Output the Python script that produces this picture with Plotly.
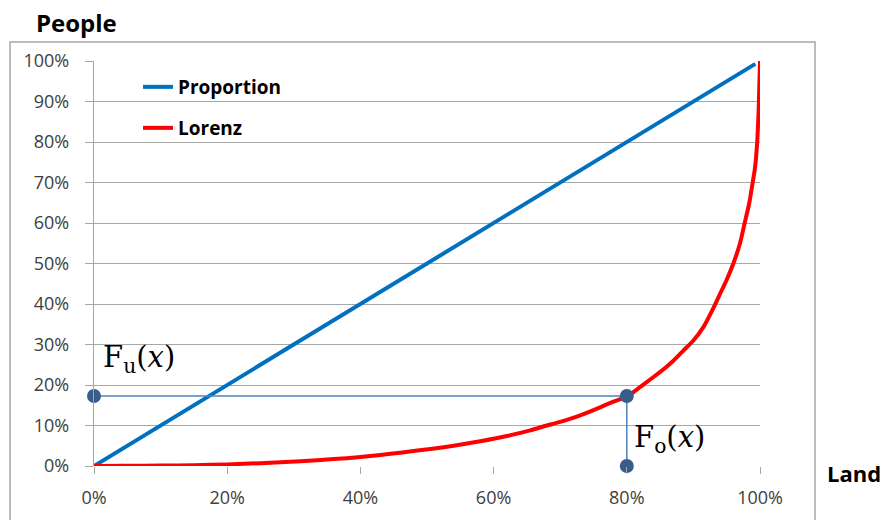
import plotly.graph_objects as go

# ---- data (percent) ----
prop_x = [0, 10, 20, 30, 40, 50, 60, 70, 80, 90, 99.3]
prop_y = [0, 10, 20, 30, 40, 50, 60, 70, 80, 90, 99.3]

lorenz_x = [0, 5, 10, 15, 20, 25, 31, 36, 40, 43, 46, 50.5, 54, 58, 62, 65.5, 68, 70,
            73, 76, 78, 80.2, 82, 85, 87, 88.5, 90, 91.5, 93, 94, 95, 96, 97, 97.7, 98.4,
            98.9, 99.2, 99.4, 99.6, 99.8, 100]
lorenz_y = [0, 0.05, 0.1, 0.2, 0.4, 0.7, 1.2, 1.7, 2.2, 2.7, 3.3, 4.2, 5.0, 6.1, 7.4, 8.8,
            10.0, 10.9, 12.5, 14.5, 15.9, 17.3, 19.5, 23.2, 26.0, 28.5, 31.0, 34.3, 39.0,
            42.5, 46, 50, 55, 60, 65, 70, 73, 76, 80.5, 88, 100]

fx = 80      # land share at marker
fy = 17.3    # people share at marker

y_ticks = [0, 10, 20, 30, 40, 50, 60, 70, 80, 90, 100]
y_labels = [f"{v}%" for v in y_ticks]
x_ticks = [0, 20, 40, 60, 80, 100]
x_labels = [f"{v}%" for v in x_ticks]

W, H = 883, 520
L, R, T, B = 94, 760, 61, 466
pw, ph = R - L, B - T

def px(xp):
    return (xp - L) / pw

def py(yp):
    return (B - yp) / ph

fig = go.Figure()

fig.add_trace(go.Scatter(x=prop_x, y=prop_y, mode="lines", name="Proportion",
                         line=dict(color="#0070C0", width=4), legend="legend"))
fig.add_trace(go.Scatter(x=lorenz_x, y=lorenz_y, mode="lines", name="Lorenz",
                         line=dict(color="#FF0000", width=4, shape="spline", smoothing=0.5),
                         legend="legend2"))

# reference lines with dots
fig.add_trace(go.Scatter(x=[0, fx, fx], y=[fy, fy, 0], mode="lines+markers",
                         line=dict(color="#4F81BD", width=1.5),
                         marker=dict(color="#385D8A", size=14),
                         showlegend=False, cliponaxis=False))

font_main = "Open Sans"

fig.update_layout(
    width=W, height=H,
    margin=dict(l=L, r=W - R, t=T, b=H - B, autoexpand=False),
    paper_bgcolor="white", plot_bgcolor="white",
    showlegend=True,
    legend=dict(x=px(138), y=py(87), xanchor="left", yanchor="middle",
                font=dict(family=font_main, size=19, color="#000000", weight="bold"),
                bgcolor="rgba(0,0,0,0)"),
    legend2=dict(x=px(138), y=py(128), xanchor="left", yanchor="middle",
                 font=dict(family=font_main, size=19, color="#000000", weight="bold"),
                 bgcolor="rgba(0,0,0,0)"),
    xaxis=dict(range=[0, 100], tickvals=x_ticks, ticktext=x_labels,
               showgrid=False, zeroline=False, showline=False,
               ticks="outside", ticklen=7, tickcolor="#A6A6A6", tickwidth=1.3,
               ticklabelstandoff=8,
               tickfont=dict(family=font_main, size=18, color="#404040"),
               fixedrange=True),
    yaxis=dict(range=[0, 100], tickvals=y_ticks, ticktext=y_labels,
               showgrid=True, gridcolor="#A8A8A8", gridwidth=1.3,
               zeroline=False, showline=True, linecolor="#A6A6A6", linewidth=1.3,
               ticks="outside", ticklen=8, tickcolor="#A6A6A6", tickwidth=1.3,
               ticklabelstandoff=12,
               tickfont=dict(family=font_main, size=18, color="#404040"),
               fixedrange=True),
    shapes=[dict(type="rect", xref="paper", yref="paper",
                 x0=px(10), x1=px(815), y0=py(540), y1=py(42),
                 line=dict(color="#A6A6A6", width=1.5), layer="below")],
    annotations=[
        dict(text="<b>People</b>", xref="paper", yref="paper", x=px(34), y=py(23),
             xanchor="left", yanchor="middle", showarrow=False,
             font=dict(family=font_main, size=24, color="#000000")),
        dict(text="<b>Land</b>", xref="paper", yref="paper", x=px(825), y=py(473),
             xanchor="left", yanchor="middle", showarrow=False,
             font=dict(family=font_main, size=22, color="#000000")),
        dict(text="F<sub>u</sub>(<i>x</i>)", xref="x", yref="y", x=1.0, y=26.3,
             xanchor="left", yanchor="middle", showarrow=False,
             font=dict(family="DejaVu Serif", size=29, color="#000000")),
        dict(text="F<sub>o</sub>(<i>x</i>)", xref="x", yref="y", x=80.8, y=6.7,
             xanchor="left", yanchor="middle", showarrow=False,
             font=dict(family="DejaVu Serif", size=29, color="#000000")),
    ],
)

fig.write_html("out.html", config={"displayModeBar": False},
               post_script="document.body.style.margin='0px';")
